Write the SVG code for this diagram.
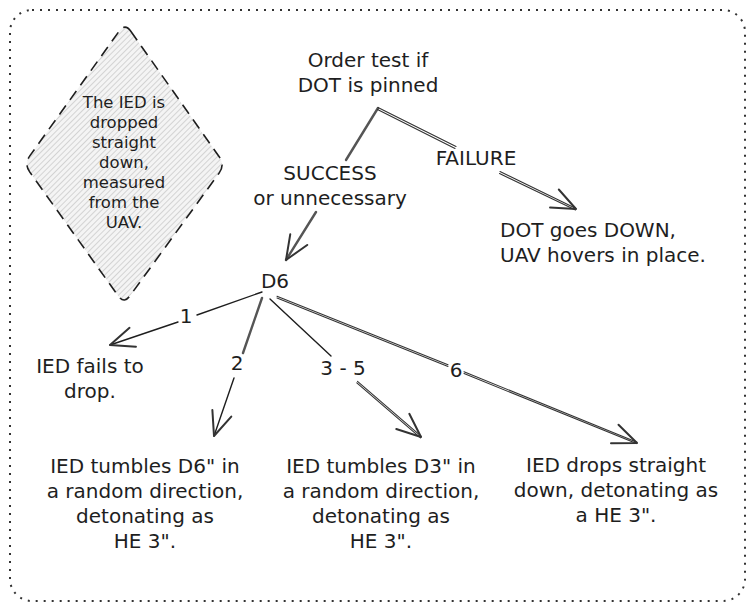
<svg xmlns="http://www.w3.org/2000/svg" width="755" height="611" viewBox="0 0 755 611">
<style>
.t{font-family:"DejaVu Sans","Liberation Sans",sans-serif;font-size:20px;fill:#1e1e1e}
.m{text-anchor:middle}
.s{font-size:16.5px}
.c{fill:none;stroke:#555;stroke-width:2.4;stroke-linecap:round}
.k{fill:none;stroke:#1e1e1e;stroke-width:1.4;stroke-linecap:round}
.d{fill:none;stroke:#333;stroke-width:1.1;stroke-linecap:round}
.h{fill:none;stroke:none}
</style>
<defs>
<pattern id="hatch" patternUnits="userSpaceOnUse" width="4" height="4" patternTransform="rotate(45)">
<rect width="4" height="4" fill="#f4f4f4"/>
<line x1="0" y1="0" x2="0" y2="4" stroke="#bdbdbd" stroke-width="1.2"/>
</pattern>
<marker id="ah" markerUnits="userSpaceOnUse" markerWidth="40" markerHeight="40" viewBox="-30 -15 40 30" refX="0" refY="0" orient="auto" overflow="visible">
<path d="M-24,-10 L0,0 L-24,10" fill="none" stroke="#333" stroke-width="2" stroke-linecap="round" stroke-linejoin="round"/>
</marker>
</defs>
<rect width="755" height="611" fill="#ffffff"/>
<rect id="frame" x="10" y="10" width="735" height="591" rx="22" fill="none" stroke="#333" stroke-width="2" stroke-dasharray="2 6"/>

<g id="note">
<path d="M130.8,31.2 L219.2,156.8 Q225,165 219.1,173.1 L129.9,295.9 Q124,304 118.2,295.9 L29.8,172.1 Q24,164 29.8,155.9 L119.2,31.1 Q125,23 130.8,31.2 Z" fill="url(#hatch)" stroke="#1e1e1e" stroke-width="1.6" stroke-dasharray="11 7"/>
<text class="t s m" x="124"><tspan x="124" y="108">The IED is</tspan><tspan x="124" y="128">dropped</tspan><tspan x="124" y="148">straight</tspan><tspan x="124" y="168">down,</tspan><tspan x="124" y="188">measured</tspan><tspan x="124" y="208">from the</tspan><tspan x="124" y="228">UAV.</tspan></text>
</g>

<g id="connectors">
<path class="c" d="M378,108 L346,160"/>
<path class="c" d="M316,212 L286,260" marker-end="url(#ah)"/>
<path class="d" d="M378,107.5 L456,146.5 M377.5,109.5 L455,148.5"/>
<path class="d" d="M500,171.5 L576,208.5 M499.5,173.5 L575.5,210"/>
<path class="h" d="M500,172 L576,209" marker-end="url(#ah)"/>
<path class="k" d="M262,292 L197,315"/>
<path class="k" d="M178,322 L110,345" marker-end="url(#ah)"/>
<path class="c" d="M262,298 L243,353"/>
<path class="k" d="M234,378 L214,436" marker-end="url(#ah)"/>
<path class="k" d="M270,299 L331,356"/>
<path class="d" d="M357.5,381.3 L421.3,436.3 M356.8,382.8 L420.6,437.8"/>
<path class="h" d="M357,382 L421,437" marker-end="url(#ah)"/>
<path class="d" d="M277,296.3 L448,364.7 M277,298 L448,366.4 M464,371.8 L637,442.2 M464,373.6 L636.5,443.6"/>
<path class="h" d="M464,373 L637,443" marker-end="url(#ah)"/>
</g>

<g id="n-order"><text class="t m"><tspan x="368" y="67">Order test if</tspan><tspan x="368" y="92">DOT is pinned</tspan></text></g>
<g id="l-failure"><text class="t m" x="476" y="165">FAILURE</text></g>
<g id="l-success"><text class="t m"><tspan x="330" y="180">SUCCESS</tspan><tspan x="330" y="205">or unnecessary</tspan></text></g>
<g id="n-down"><text class="t"><tspan x="500" y="237">DOT goes DOWN,</tspan><tspan x="500" y="262">UAV hovers in place.</tspan></text></g>
<g id="n-d6"><text class="t m" x="275" y="288">D6</text></g>
<g id="l-1"><text class="t m" x="186" y="323">1</text></g>
<g id="l-2"><text class="t m" x="237" y="370">2</text></g>
<g id="l-35"><text class="t m" x="343" y="375">3 - 5</text></g>
<g id="l-6"><text class="t m" x="456" y="377">6</text></g>
<g id="n-fail"><text class="t m"><tspan x="90" y="373">IED fails to</tspan><tspan x="90" y="398">drop.</tspan></text></g>
<g id="n-d6in"><text class="t m"><tspan x="145" y="473">IED tumbles D6" in</tspan><tspan x="145" y="498">a random direction,</tspan><tspan x="145" y="523">detonating as</tspan><tspan x="145" y="548">HE 3".</tspan></text></g>
<g id="n-d3in"><text class="t m"><tspan x="381" y="473">IED tumbles D3" in</tspan><tspan x="381" y="498">a random direction,</tspan><tspan x="381" y="523">detonating as</tspan><tspan x="381" y="548">HE 3".</tspan></text></g>
<g id="n-straight"><text class="t m"><tspan x="616" y="472">IED drops straight</tspan><tspan x="616" y="497">down, detonating as</tspan><tspan x="616" y="522">a HE 3".</tspan></text></g>
</svg>
